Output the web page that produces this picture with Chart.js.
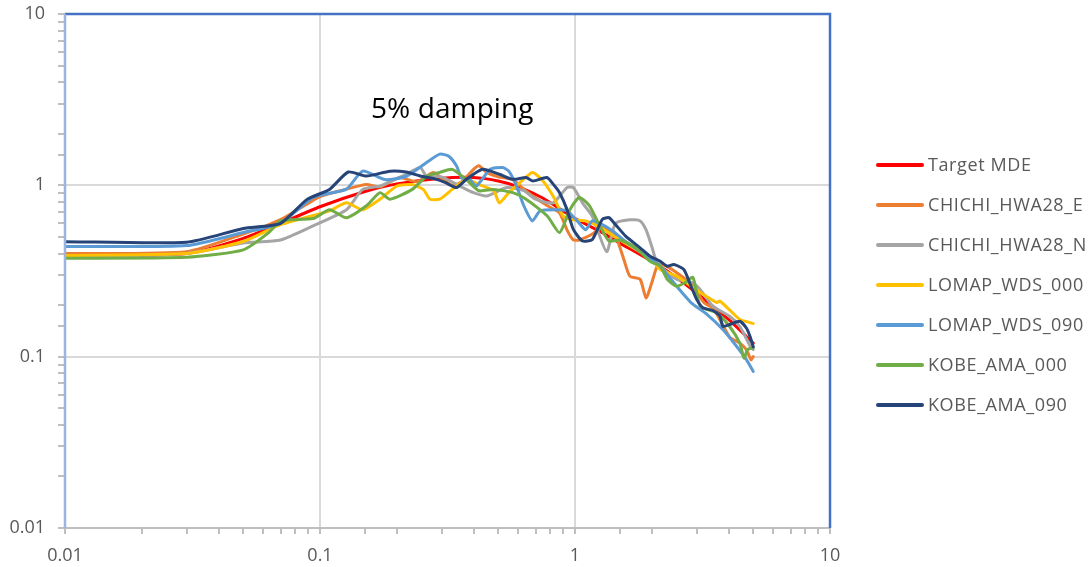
<!DOCTYPE html>
<html>
<head>
<meta charset="utf-8">
<script src="https://cdn.jsdelivr.net/npm/chart.js@4.4.1/dist/chart.umd.min.js"></script>
<style>
  html, body { margin: 0; padding: 0; background: #fff; }
  #wrap { position: relative; width: 1092px; height: 567px; overflow: hidden; }
  canvas { position: absolute; left: 0; top: 0; }
  #title { position: absolute; left: 371px; top: 88px; font: 28px "Open Sans", sans-serif; letter-spacing: 0.1px; color: #000; white-space: nowrap; }
  .lg { position: absolute; left: 876px; height: 20px; white-space: nowrap; font: 18px "Open Sans", sans-serif; letter-spacing: 0.6px; color: #595959; }
  .lg span.ln { position: absolute; left: 0; top: 8px; width: 48px; height: 4px; border-radius: 2px; }
  .lg span.tx { position: absolute; left: 52px; top: -3px; }
</style>
</head>
<body>
<div id="wrap">
  <canvas id="c" width="1092" height="567"></canvas>
  <div id="title">5% damping</div>
  <div id="legend"></div>
</div>
<script>
// ---- data (period [s], spectral acceleration [g]) ----
const seriesNames = ["Target MDE", "CHICHI_HWA28_E", "CHICHI_HWA28_N", "LOMAP_WDS_000", "LOMAP_WDS_090", "KOBE_AMA_000", "KOBE_AMA_090"];
const seriesColors = ["#FF0000", "#ED7D31", "#A5A5A5", "#FFC000", "#5B9BD5", "#70AD47", "#264478"];

const targetX = [0.01, 0.03, 0.05, 0.07, 0.1, 0.15, 0.2, 0.3, 0.4, 0.5, 0.6, 0.75, 1, 1.25, 1.5, 2, 2.5, 3, 4, 5];
const targetY = [0.385, 0.40, 0.49, 0.60, 0.75, 0.92, 1.02, 1.10, 1.11, 1.06, 0.98, 0.84, 0.64, 0.54, 0.46, 0.36, 0.29, 0.235, 0.165, 0.12];

const chichiEX = [0.01, 0.03, 0.05, 0.07, 0.1, 0.127, 0.152, 0.172, 0.205, 0.24, 0.278, 0.30, 0.33, 0.36, 0.40, 0.42, 0.45, 0.50, 0.57, 0.63, 0.68, 0.78, 0.87, 0.93, 0.985, 1.04, 1.17, 1.28, 1.44, 1.54, 1.64, 1.8, 1.9, 2.0, 2.1, 2.2, 2.5, 2.9, 3.2, 3.5, 4.04, 4.43, 4.7, 4.9, 5.0];
const chichiEY = [0.40, 0.41, 0.52, 0.63, 0.86, 0.95, 1.01, 0.98, 1.11, 1.05, 1.19, 1.10, 1.00, 1.05, 1.24, 1.30, 1.19, 1.12, 1.08, 0.95, 0.87, 0.76, 0.69, 0.55, 0.48, 0.48, 0.52, 0.57, 0.505, 0.386, 0.295, 0.283, 0.22, 0.27, 0.337, 0.345, 0.31, 0.258, 0.207, 0.19, 0.13, 0.12, 0.11, 0.096, 0.10];

const chichiNX = [0.01, 0.03, 0.05, 0.07, 0.094, 0.127, 0.147, 0.172, 0.218, 0.247, 0.262, 0.30, 0.353, 0.40, 0.45, 0.54, 0.63, 0.70, 0.82, 0.93, 0.985, 1.07, 1.17, 1.33, 1.44, 1.64, 1.8, 1.9, 2.0, 2.1, 2.5, 2.9, 3.1, 3.47, 4.04, 4.43, 4.87, 5.0];
const chichiNY = [0.38, 0.40, 0.46, 0.48, 0.58, 0.72, 0.947, 0.99, 1.16, 1.27, 1.13, 1.12, 0.99, 0.906, 0.866, 0.97, 0.93, 0.83, 0.79, 0.97, 0.97, 0.79, 0.66, 0.41, 0.60, 0.63, 0.62, 0.55, 0.44, 0.353, 0.283, 0.27, 0.246, 0.197, 0.172, 0.15, 0.115, 0.11];

const lomap000X = [0.01, 0.03, 0.05, 0.07, 0.109, 0.127, 0.147, 0.172, 0.20, 0.23, 0.254, 0.27, 0.295, 0.33, 0.375, 0.42, 0.48, 0.505, 0.55, 0.61, 0.68, 0.74, 0.82, 0.9, 0.985, 1.1, 1.25, 1.5, 2.0, 2.16, 2.5, 3.1, 3.6, 3.7, 4.0, 4.43, 4.87, 5.0];
const lomap000Y = [0.39, 0.40, 0.47, 0.59, 0.71, 0.79, 0.72, 0.83, 0.99, 1.01, 0.947, 0.83, 0.83, 0.947, 1.08, 1.01, 0.93, 0.79, 0.906, 1.04, 1.19, 1.08, 0.866, 0.66, 0.63, 0.62, 0.57, 0.48, 0.37, 0.323, 0.295, 0.237, 0.207, 0.211, 0.19, 0.165, 0.158, 0.156];

const lomap090X = [0.01, 0.03, 0.05, 0.07, 0.094, 0.127, 0.147, 0.18, 0.218, 0.262, 0.295, 0.32, 0.343, 0.36, 0.387, 0.41, 0.465, 0.52, 0.55, 0.59, 0.63, 0.68, 0.73, 0.84, 0.93, 1.04, 1.1, 1.17, 1.28, 1.41, 1.58, 1.8, 2.16, 2.5, 2.85, 3.3, 3.8, 4.3, 4.7, 5.0];
const lomap090Y = [0.44, 0.445, 0.53, 0.60, 0.85, 0.95, 1.21, 1.08, 1.13, 1.36, 1.52, 1.48, 1.30, 1.10, 1.08, 0.99, 1.24, 1.27, 1.21, 0.99, 0.76, 0.62, 0.71, 0.72, 0.71, 0.60, 0.55, 0.62, 0.59, 0.54, 0.47, 0.41, 0.337, 0.258, 0.207, 0.176, 0.144, 0.115, 0.096, 0.082];

const kobe000X = [0.01, 0.03, 0.05, 0.063, 0.07, 0.094, 0.109, 0.127, 0.152, 0.172, 0.188, 0.23, 0.262, 0.295, 0.33, 0.375, 0.42, 0.48, 0.57, 0.643, 0.78, 0.87, 0.955, 1.04, 1.14, 1.25, 1.36, 1.5, 1.7, 1.8, 1.97, 2.16, 2.3, 2.5, 2.7, 2.9, 3.1, 3.6, 4.04, 4.43, 4.6, 4.75, 5.0];
const kobe000Y = [0.375, 0.38, 0.42, 0.53, 0.62, 0.64, 0.72, 0.647, 0.76, 0.906, 0.83, 0.947, 1.13, 1.19, 1.24, 1.08, 0.93, 0.947, 0.906, 0.83, 0.66, 0.53, 0.72, 0.85, 0.76, 0.58, 0.473, 0.48, 0.44, 0.41, 0.36, 0.337, 0.283, 0.258, 0.27, 0.29, 0.197, 0.18, 0.15, 0.12, 0.098, 0.11, 0.113];

const kobe090X = [0.01, 0.03, 0.05, 0.07, 0.089, 0.109, 0.129, 0.152, 0.188, 0.218, 0.247, 0.286, 0.309, 0.343, 0.375, 0.434, 0.505, 0.57, 0.643, 0.684, 0.776, 0.824, 0.87, 0.93, 0.985, 1.07, 1.17, 1.28, 1.36, 1.44, 1.58, 1.8, 1.97, 2.16, 2.3, 2.44, 2.67, 2.85, 3.0, 3.17, 3.47, 3.7, 3.8, 4.04, 4.43, 4.7, 4.87, 5.0];
const kobe090Y = [0.469, 0.466, 0.56, 0.60, 0.828, 0.947, 1.196, 1.133, 1.21, 1.196, 1.133, 1.084, 1.04, 0.97, 1.084, 1.24, 1.16, 1.084, 1.11, 1.06, 1.11, 1.01, 0.906, 0.724, 0.553, 0.473, 0.483, 0.633, 0.647, 0.591, 0.505, 0.432, 0.386, 0.36, 0.337, 0.345, 0.323, 0.258, 0.216, 0.193, 0.186, 0.173, 0.15, 0.154, 0.161, 0.147, 0.13, 0.114];

const xTickLabels = {0.01: "0.01", 0.1: "0.1", 1: "1", 10: "10"};
const yTickLabels = {0.01: "0.01", 0.1: "0.1", 1: "1", 10: "10"};

// ---- build ----
const allX = [targetX, chichiEX, chichiNX, lomap000X, lomap090X, kobe000X, kobe090X];
const allY = [targetY, chichiEY, chichiNY, lomap000Y, lomap090Y, kobe000Y, kobe090Y];

const datasets = seriesNames.map((name, i) => ({
  label: name,
  data: allX[i].map((x, k) => ({x: x, y: allY[i][k]})),
  borderColor: seriesColors[i],
  backgroundColor: seriesColors[i],
  borderWidth: 3,
  pointRadius: 0,
  showLine: true,
  tension: 0.2,
  order: seriesNames.length - i,
  borderJoinStyle: 'round',
  borderCapStyle: 'round'
}));

function isMajor(v) {
  const l = Math.log10(v);
  return Math.abs(l - Math.round(l)) < 1e-6;
}
function lbl(map, v) {
  for (const k in map) { if (Math.abs(parseFloat(k) - v) < 1e-9) return map[k]; }
  return "";
}

const frame = {
  id: 'frame',
  afterDraw(chart) {
    const a = chart.chartArea, ctx = chart.ctx;
    ctx.save();
    ctx.strokeStyle = '#4472C4';
    ctx.lineWidth = 2.5;
    ctx.beginPath();
    ctx.moveTo(a.left, a.top);
    ctx.lineTo(a.right, a.top);
    ctx.lineTo(a.right, a.bottom);
    ctx.stroke();
    ctx.strokeStyle = '#9DB4E0';
    ctx.lineWidth = 2.5;
    ctx.beginPath();
    ctx.moveTo(a.left, a.top);
    ctx.lineTo(a.left, a.bottom);
    ctx.stroke();
    ctx.restore();
  }
};

const tickFont = {family: "'Open Sans', sans-serif", size: 18};

new Chart(document.getElementById('c'), {
  type: 'scatter',
  data: {datasets},
  options: {
    responsive: false,
    animation: false,
    layout: {padding: {left: 0, right: 262, top: 14, bottom: 0}},
    plugins: {legend: {display: false}, tooltip: {enabled: false}},
    scales: {
      x: {
        type: 'logarithmic', min: 0.01, max: 10,
        afterFit(s) { s.height = 39; s.paddingLeft = 0; s.paddingRight = 0; },
        border: {color: '#BFBFBF', width: 2},
        grid: {
          color: c => (c.tick && isMajor(c.tick.value)) ? '#D9D9D9' : 'rgba(0,0,0,0)',
          lineWidth: 2,
          tickColor: '#BFBFBF',
          tickLength: 6,
          drawTicks: true
        },
        ticks: {
          autoSkip: false, maxRotation: 0, padding: 11,
          color: '#595959', font: tickFont,
          callback: v => lbl(xTickLabels, v)
        }
      },
      y: {
        type: 'logarithmic', min: 0.01, max: 10,
        afterFit(s) { s.width = 65; s.paddingTop = 0; s.paddingBottom = 0; },
        border: {color: '#BFBFBF', width: 2},
        grid: {
          color: c => (c.tick && isMajor(c.tick.value)) ? '#D9D9D9' : 'rgba(0,0,0,0)',
          lineWidth: 2,
          tickColor: '#BFBFBF',
          tickLength: 7
        },
        ticks: {
          autoSkip: false, padding: 13,
          color: '#595959', font: tickFont,
          callback: v => lbl(yTickLabels, v)
        }
      }
    }
  },
  plugins: [frame]
});

// HTML legend
const lg = document.getElementById('legend');
seriesNames.forEach((n, i) => {
  const d = document.createElement('div');
  d.className = 'lg';
  d.style.top = (155 + i * 40) + 'px';
  d.innerHTML = '<span class="ln" style="background:' + seriesColors[i] + '"></span><span class="tx">' + n + '</span>';
  lg.appendChild(d);
});
</script>
</body>
</html>
